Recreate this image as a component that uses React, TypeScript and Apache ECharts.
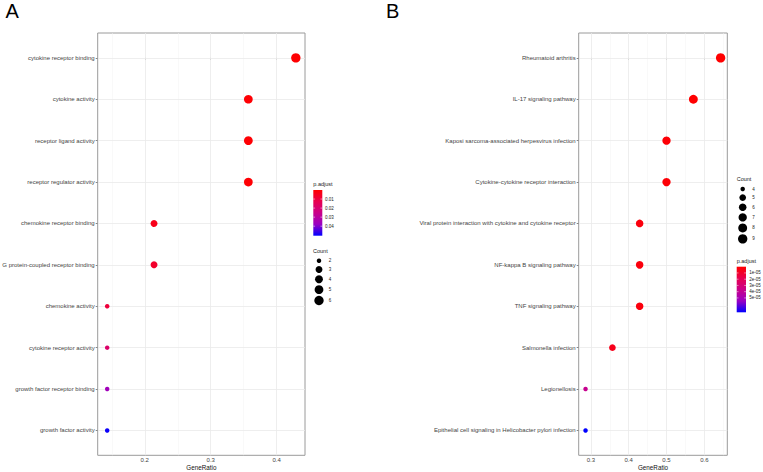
import React, { useEffect, useRef } from 'react';
import * as echarts from 'echarts';

// ---------- Panel A data (GO enrichment) ----------
const categoriesA = [
  'cytokine receptor binding',
  'cytokine activity',
  'receptor ligand activity',
  'receptor regulator activity',
  'chemokine receptor binding',
  'G protein-coupled receptor binding',
  'chemokine activity',
  'cytokine receptor activity',
  'growth factor receptor binding',
  'growth factor activity',
];
const ratioA = [0.429, 0.357, 0.357, 0.357, 0.214, 0.214, 0.143, 0.143, 0.143, 0.143];
const countA = [6, 5, 5, 5, 3, 3, 2, 2, 2, 2];
const padjA = [0.0003, 0.0007, 0.0007, 0.0007, 0.004, 0.007, 0.0095, 0.018, 0.036, 0.0495];
const xTicksA = [0.2, 0.3, 0.4];
const xTickLabelsA = ['0.2', '0.3', '0.4'];
const xMinorA = [0.15, 0.25, 0.35];
const padjTicksA = [0.01, 0.02, 0.03, 0.04];
const padjTickLabelsA = ['0.01', '0.02', '0.03', '0.04'];
const countTicksA = [2, 3, 4, 5, 6];

// ---------- Panel B data (KEGG enrichment) ----------
const categoriesB = [
  'Rheumatoid arthritis',
  'IL-17 signaling pathway',
  'Kaposi sarcoma-associated herpesvirus infection',
  'Cytokine-cytokine receptor interaction',
  'Viral protein interaction with cytokine and cytokine receptor',
  'NF-kappa B signaling pathway',
  'TNF signaling pathway',
  'Salmonella infection',
  'Legionellosis',
  'Epithelial cell signaling in Helicobacter pylori infection',
];
const ratioB = [0.643, 0.571, 0.5, 0.5, 0.429, 0.429, 0.429, 0.357, 0.286, 0.286];
const countB = [9, 8, 7, 7, 6, 6, 6, 5, 4, 4];
const padjB = [1e-7, 3e-7, 1.5e-6, 1.5e-6, 3e-6, 3e-6, 3e-6, 6e-6, 3.8e-5, 7.3e-5];
const xTicksB = [0.3, 0.4, 0.5, 0.6];
const xTickLabelsB = ['0.3', '0.4', '0.5', '0.6'];
const xMinorB = [0.35, 0.45, 0.55, 0.65];
const padjTicksB = [1e-5, 2e-5, 3e-5, 4e-5, 5e-5];
const padjTickLabelsB = ['1e-05', '2e-05', '3e-05', '4e-05', '5e-05'];
const countTicksB = [4, 5, 6, 7, 8, 9];

// ---------- styling ----------
const W = 763;
const H = 472;
const FONT = '"Liberation Sans", Arial, Helvetica, sans-serif';
const RAMP = ['#FF0000', '#E8004F', '#CA0089', '#9A00C2', '#0000FF'];
const PADJ_MAX_A = 0.0505;
const PADJ_MAX_B = 7.3e-5;

const GRID_A = { left: 97.7, top: 33, width: 207.3, height: 422.3 };
const GRID_B = { left: 578.7, top: 33, width: 148.6, height: 422.3 };

function dotSize(c: number, cmin: number, cmax: number) {
  const t = cmax > cmin ? (c - cmin) / (cmax - cmin) : 1;
  return 3 + 0.98 * (1.5 + 5 * Math.sqrt(t));
}

function labelFor(ticks: number[], labels: string[]) {
  return (v: number) => {
    const i = ticks.findIndex((t) => Math.abs(t - v) < 1e-9);
    return i >= 0 ? labels[i] : '';
  };
}

const gridLine = (color: string, width: number) => ({ color, width, type: 'solid' as const });

function makeSeries(
  idx: number,
  cats: string[],
  ratios: number[],
  counts: number[],
  padj: number[],
  majors: number[],
  minors: number[]
) {
  const cmin = Math.min(...counts);
  const cmax = Math.max(...counts);
  return {
    type: 'scatter',
    xAxisIndex: idx,
    yAxisIndex: idx,
    z: 3,
    silent: true,
    symbol: 'circle',
    data: ratios.map((r, i) => [r, i, counts[i], padj[i]]),
    symbolSize: (v: number[]) => dotSize(v[2], cmin, cmax),
    itemStyle: { opacity: 1 },
    markLine: {
      silent: true,
      z: 1,
      symbol: ['none', 'none'],
      label: { show: false },
      emphasis: { disabled: true },
      data: [
        ...minors.map((v) => ({ xAxis: v, lineStyle: gridLine('#F3F3F3', 0.5) })),
        ...majors.map((v) => ({ xAxis: v, lineStyle: gridLine('#EAEAEA', 0.8) })),
        ...cats.map((_, i) => ({ yAxis: i, lineStyle: gridLine('#EAEAEA', 0.8) })),
      ],
    },
  };
}

function makeXAxis(idx: number, min: number, max: number, ticks: number[], labels: string[]) {
  return {
    type: 'value',
    gridIndex: idx,
    min,
    max,
    axisLine: { show: false },
    axisTick: { show: true, customValues: ticks, length: 2, lineStyle: { color: '#333', width: 0.6 } },
    axisLabel: {
      customValues: ticks,
      formatter: labelFor(ticks, labels),
      fontSize: 6,
      color: '#444',
      fontFamily: FONT,
      margin: 1.8,
    },
    splitLine: { show: false },
  };
}

function makeYAxis(idx: number, cats: string[]) {
  const vals = cats.map((_, i) => i);
  return {
    type: 'value',
    gridIndex: idx,
    inverse: true,
    min: -0.6,
    max: cats.length - 1 + 0.6,
    axisLine: { show: false },
    axisTick: { show: true, customValues: vals, length: 2, lineStyle: { color: '#333', width: 0.6 } },
    axisLabel: {
      customValues: vals,
      formatter: (v: number) => cats[Math.round(v)] ?? '',
      fontSize: 6,
      color: '#444',
      fontFamily: FONT,
      margin: 3,
    },
    splitLine: { show: false },
  };
}

function gradientFill() {
  return new echarts.graphic.LinearGradient(
    0,
    0,
    0,
    1,
    RAMP.map((c, i) => ({ offset: i / (RAMP.length - 1), color: c }))
  );
}

function text(x: number, y: number, str: string, size: number, extra: any = {}) {
  return {
    type: 'text',
    x,
    y,
    silent: true,
    style: {
      text: str,
      fontSize: size,
      fontFamily: FONT,
      fill: '#222',
      align: 'left',
      verticalAlign: 'middle',
      ...extra,
    },
  };
}

function colorLegend(
  x: number,
  titleY: number,
  barTop: number,
  barH: number,
  barW: number,
  labelX: number,
  ticks: number[],
  labels: string[],
  domainMax: number
) {
  const els: any[] = [];
  els.push(text(x, titleY, 'p.adjust', 5.5));
  els.push({
    type: 'rect',
    silent: true,
    shape: { x, y: barTop, width: barW, height: barH },
    style: { fill: gradientFill() },
  });
  ticks.forEach((v, i) => {
    const y = barTop + (v / domainMax) * barH;
    els.push({ type: 'line', silent: true, shape: { x1: x, y1: y, x2: x + 1.8, y2: y }, style: { stroke: '#fff', lineWidth: 0.5 } });
    els.push({ type: 'line', silent: true, shape: { x1: x + barW - 1.8, y1: y, x2: x + barW, y2: y }, style: { stroke: '#fff', lineWidth: 0.5 } });
    els.push(text(labelX, y, labels[i], 4.5));
  });
  return els;
}

function sizeLegend(
  titleX: number,
  titleY: number,
  cx: number,
  firstY: number,
  labelX: number,
  ticks: number[]
) {
  const els: any[] = [];
  els.push(text(titleX, titleY, 'Count', 5.5));
  const cmin = Math.min(...ticks);
  const cmax = Math.max(...ticks);
  let y = firstY;
  let prevH = 0;
  ticks.forEach((c, i) => {
    const d = dotSize(c, cmin, cmax);
    const h = 5 + 0.65 * d;
    if (i > 0) y += (prevH + h) / 2;
    prevH = h;
    els.push({ type: 'circle', silent: true, shape: { cx, cy: y, r: d / 2 }, style: { fill: '#000' } });
    els.push(text(labelX, y, String(c), 4.5));
  });
  return els;
}

const gridStyle = {
  show: true,
  borderColor: '#9A9A9A',
  borderWidth: 1,
  backgroundColor: '#FFFFFF',
  containLabel: false,
  outerBoundsMode: 'none',
};

const option: any = {
  animation: false,
  backgroundColor: '#FFFFFF',
  grid: [
    { ...gridStyle, ...GRID_A },
    { ...gridStyle, ...GRID_B },
  ],
  xAxis: [
    makeXAxis(0, 0.1286, 0.4429, xTicksA, xTickLabelsA),
    makeXAxis(1, 0.2679, 0.6607, xTicksB, xTickLabelsB),
  ],
  yAxis: [makeYAxis(0, categoriesA), makeYAxis(1, categoriesB)],
  visualMap: [
    { type: 'continuous', show: false, seriesIndex: 0, dimension: 3, min: 0, max: PADJ_MAX_A, inRange: { color: RAMP } },
    { type: 'continuous', show: false, seriesIndex: 1, dimension: 3, min: 0, max: PADJ_MAX_B, inRange: { color: RAMP } },
  ],
  series: [
    makeSeries(0, categoriesA, ratioA, countA, padjA, xTicksA, xMinorA),
    makeSeries(1, categoriesB, ratioB, countB, padjB, xTicksB, xMinorB),
  ],
  graphic: [
    text(5.5, 11, 'A', 20, { fill: '#000' }),
    text(386, 11, 'B', 20, { fill: '#000' }),
    text(GRID_A.left + GRID_A.width / 2, 467.8, 'GeneRatio', 6.3, { fill: '#111', align: 'center' }),
    text(GRID_B.left + GRID_B.width / 2, 467.8, 'GeneRatio', 6.3, { fill: '#111', align: 'center' }),
    ...colorLegend(313.3, 184.3, 190, 45.7, 9, 325, padjTicksA, padjTickLabelsA, PADJ_MAX_A),
    ...sizeLegend(313, 250.7, 319, 260.7, 328.7, countTicksA),
    ...sizeLegend(736.7, 179.3, 742.7, 189, 752.3, countTicksB),
    ...colorLegend(736.7, 261, 266.7, 45.6, 9.3, 749.3, padjTicksB, padjTickLabelsB, PADJ_MAX_B),
  ],
};

export default function App() {
  const ref = useRef<HTMLDivElement>(null);
  useEffect(() => {
    const chart = echarts.init(ref.current as HTMLDivElement, null, { renderer: 'svg', width: W, height: H });
    chart.setOption(option);
    return () => chart.dispose();
  }, []);
  return (
    <div
      ref={ref}
      style={{ position: 'fixed', left: 0, top: 0, width: W, height: H, background: '#fff' }}
    />
  );
}
